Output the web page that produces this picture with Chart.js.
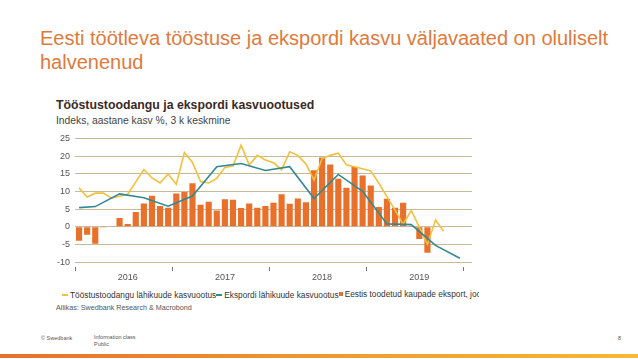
<!DOCTYPE html>
<html>
<head>
<meta charset="utf-8">
<title>Tööstustoodangu ja ekspordi kasvuootused</title>
<script src="https://cdn.jsdelivr.net/npm/chart.js"></script>
<style>
  body { margin: 0; width: 638px; height: 359px; background: #fff; position: relative; overflow: hidden;
         font-family: "Liberation Sans", Arial, sans-serif; }
  .abs { position: absolute; white-space: nowrap; }
  #title { left: 40px; top: 26px; font-family: "Liberation Sans Narrow", "Liberation Sans", sans-serif;
           font-size: 20px; line-height: 24px; color: #e07a3c; }
  #ctitle { left: 56px; top: 98px; font-size: 12.3px; font-weight: bold; color: #3a2a26; }
  #csub { left: 56px; top: 115px; font-size: 10.3px; color: #444; }
  #chartBox { position: absolute; left: 50px; top: 128px; width: 430px; height: 155px; }
  #legend { left: 62px; top: 288px; width: 417px; overflow: hidden; font-size: 8.3px; color: #333; }
  #legend span.item { display: inline-flex; align-items: center; }
  #legend i { display: inline-block; margin-right: 2px; }
  #source { left: 56px; top: 303px; font-size: 7.2px; color: #555; }
  .foot { font-size: 5.5px; color: #555; line-height: 7px; }
  #bar { position: absolute; left: 0; bottom: 1px; width: 638px; height: 4px;
         background: linear-gradient(to right, #e8702a, #f0a030 60%, #f7b733); }
</style>
</head>
<body>
<div id="title" class="abs">Eesti töötleva tööstuse ja ekspordi kasvu väljavaated on oluliselt<br>halvenenud</div>
<div id="ctitle" class="abs">Tööstustoodangu ja ekspordi kasvuootused</div>
<div id="csub" class="abs">Indeks, aastane kasv %, 3 k keskmine</div>
<div id="chartBox"><canvas id="chart"></canvas></div>
<div id="legend" class="abs"></div>
<div id="source" class="abs">Allikas: Swedbank Research &amp; Macrobond</div>
<div class="abs foot" style="left:41px; top:335px;">© Swedbank</div>
<div class="abs foot" style="left:94px; top:334px;">Information class<br>Public</div>
<div class="abs foot" style="left:618px; top:335px;">8</div>
<div id="bar"></div>

<script>
// months Jan 2016 .. Jan 2020
const years = ['2016', '2017', '2018', '2019'];
const months = [];
['2016', '2017', '2018', '2019', '2020'].forEach(y => {
    for (let m = 1; m <= 12; m++) months.push(y + '-' + String(m).padStart(2, '0'));
});
months.length = 49;

const yTicks = [-10, -5, 0, 5, 10, 15, 20, 25];

// Eestis toodetud kaupade eksport (bars)
const exportGrowth = [
    -4.0, -2.3, -4.8, -0.2, 0.0, 2.5, 0.8, 4.2, 6.6, 8.8, 5.9, 5.4,
    9.4, 9.8, 12.3, 6.2, 7.1, 4.6, 7.8, 7.6, 5.3, 6.6, 5.4, 5.9,
    6.8, 9.2, 6.5, 8.0, 6.9, 16.0, 19.6, 17.6, 13.6, 11.0, 16.9, 14.5,
    11.7, 5.6, 7.9, 5.4, 6.8, 0.2, -3.5, -7.4, null, null, null, null,
    null
];

// Tööstustoodangu lähikuude kasvuootus (yellow)
const industryOutlook = [
    11.0, 8.4, 9.5, 9.5, 8.1, 8.6, 9.2, 12.7, 16.2, 13.8, 12.4, 14.9,
    12.0, 21.0, 18.2, 12.8, 12.4, 13.7, 16.8, 17.2, 23.1, 17.5, 20.2, 18.9,
    18.1, 16.1, 21.2, 20.2, 17.8, 13.2, 19.3, 20.2, 20.8, 17.5, 17.0, 16.4,
    15.8, 12.3, 8.5, 4.7, 0.7, 4.6, -0.1, -5.0, 1.9, -1.3, null, null,
    null
];

// Ekspordi lähikuude kasvuootus (teal, quarterly)
const exportOutlook = [
    5.4, null, 5.7, null, null, 9.3, null, null, 8.2, null, null, 5.8,
    null, null, 8.7, null, null, 17.0, null, null, 17.9, null, null, 15.9,
    null, null, 17.0, null, null, 8.0, null, null, 14.8, null, null, 10.0,
    null, null, 0.8, null, null, 0.6, null, null, -5.3, null, null, -8.9,
    null
];

const seriesNames = [
    'Tööstustoodangu lähikuude kasvuootus',
    'Ekspordi lähikuude kasvuootus',
    'Eestis toodetud kaupade eksport, jooksevhindades'
];

const yellow = '#f2c03c';
const teal = '#2f8a96';
const orange = '#e8702a';
const tickFont = { family: '"Liberation Sans", Arial, sans-serif', size: 9 };

const chart = new Chart(document.getElementById('chart'), {
    type: 'bar',
    data: {
        labels: months,
        datasets: [
            {
                type: 'line',
                label: seriesNames[0],
                data: industryOutlook,
                borderColor: yellow,
                backgroundColor: yellow,
                borderWidth: 1.6,
                pointRadius: 0,
                tension: 0,
                order: 2
            },
            {
                type: 'line',
                label: seriesNames[1],
                data: exportOutlook,
                borderColor: teal,
                backgroundColor: teal,
                borderWidth: 1.6,
                pointRadius: 0,
                spanGaps: true,
                tension: 0,
                order: 1
            },
            {
                label: seriesNames[2],
                data: exportGrowth,
                backgroundColor: orange,
                categoryPercentage: 1,
                barPercentage: 0.76,
                order: 3
            }
        ]
    },
    options: {
        responsive: true,
        maintainAspectRatio: false,
        animation: false,
        layout: { padding: { top: 4, right: 8, bottom: 0, left: 0 } },
        plugins: {
            legend: { display: false },
            tooltip: { enabled: false }
        },
        scales: {
            x: {
                offset: true,
                border: { display: false },
                grid: {
                    offset: true,
                    drawOnChartArea: false,
                    drawTicks: true,
                    tickLength: 4,
                    color: ctx => (ctx.index % 12 === 0 ? '#777' : 'rgba(0,0,0,0)')
                },
                ticks: {
                    autoSkip: false,
                    maxRotation: 0,
                    padding: 1,
                    font: tickFont,
                    color: '#555',
                    callback: (v, i) => (i % 12 === 6 ? years[Math.floor(i / 12)] : '')
                },
                afterFit: s => { s.height = 16; }
            },
            y: {
                min: -11.4,
                max: 25,
                border: { display: false },
                grid: { color: '#c9b998', drawTicks: false, lineWidth: 1 },
                ticks: { padding: 5, font: tickFont, color: '#555' },
                afterBuildTicks: s => { s.ticks = yTicks.map(v => ({ value: v })); },
                afterFit: s => { s.width = 25; }
            }
        }
    }
});

// legend line like in the source slide (clipped at the right)
const legendEl = document.getElementById('legend');
chart.data.datasets.forEach(ds => {
    const item = document.createElement('span');
    item.className = 'item';
    const mark = document.createElement('i');
    if (ds.type === 'line') {
        mark.style.width = '6px';
        mark.style.height = '1.6px';
    } else {
        mark.style.width = '4px';
        mark.style.height = '4px';
    }
    mark.style.background = ds.backgroundColor;
    item.appendChild(mark);
    item.appendChild(document.createTextNode(ds.label));
    legendEl.appendChild(item);
});
</script>
</body>
</html>
